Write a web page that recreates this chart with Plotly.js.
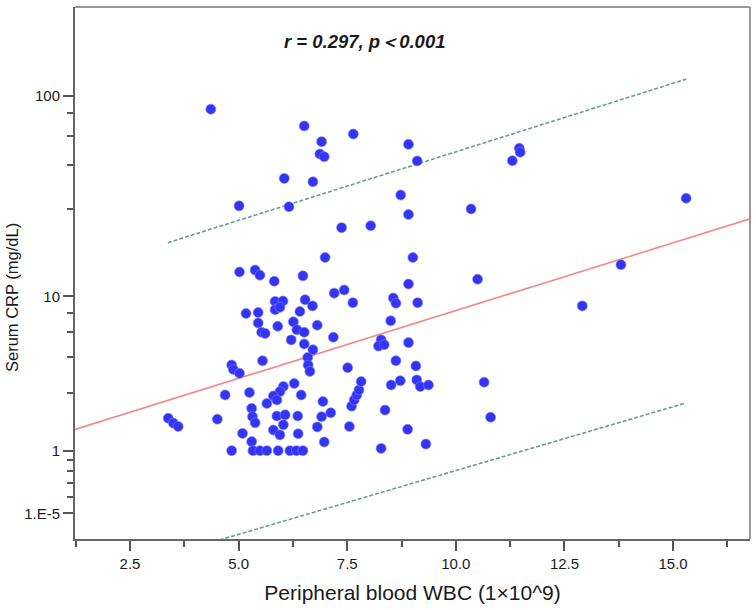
<!DOCTYPE html>
<html>
<head>
<meta charset="utf-8">
<script src="https://cdn.plot.ly/plotly-3.0.1.min.js"></script>
<style>html,body{margin:0;padding:0;background:#fff;}#chart{width:756px;height:610px;}</style>
</head>
<body>
<div id="chart"></div>
<script>
// Peripheral blood WBC (1x10^9)
const wbc = [4.36,5.01,5.02,5.38,5.49,5.82,6.48,6.51,7.64,6.91,8.91,6.87,6.97,9.11,6.05,6.71,8.73,6.16,8.91,7.37,
  8.04,6.99,9.01,8.91,7.20,7.43,7.63,8.56,8.62,9.12,5.84,6.02,5.84,5.95,5.45,5.17,6.53,6.70,6.41,6.26,
  5.45,5.53,5.61,5.90,6.34,6.51,6.81,6.21,6.51,6.71,7.18,8.50,8.91,8.28,8.22,8.35,5.55,6.59,6.60,6.64,
  7.51,8.62,9.08,4.84,4.88,5.02,6.28,6.44,4.69,5.25,6.03,5.95,5.80,5.65,5.88,5.30,5.32,5.38,6.94,7.12,
  6.91,6.81,6.97,7.55,7.60,7.66,7.72,7.77,7.82,8.37,8.51,8.72,9.10,9.18,9.37,8.89,8.28,9.31,5.88,6.07,
  6.36,6.03,5.80,5.95,6.37,3.38,3.50,3.61,4.51,5.09,5.30,4.84,5.33,5.49,5.65,5.91,6.18,6.33,6.48,
  11.46,11.48,11.30,10.35,15.30,10.50,13.80,12.91,10.65,10.80];
// Serum CRP (mg/dL)
const crp = [86,28.9,13.4,13.7,12.9,12.0,12.8,71.3,65.1,59.8,58.0,52,50.5,48.1,39.5,38.0,32.7,28.6,26.2,22.5,
  23.0,15.9,15.9,11.6,10.4,10.8,9.26,9.8,9.2,9.26,9.4,9.45,8.5,8.75,8.2,8.1,9.6,8.9,8.3,7.3,
  7.2,6.4,6.3,6.9,6.6,6.4,7.0,5.8,5.5,5.1,6.0,7.4,5.6,5.8,5.35,5.45,4.4,4.6,4.15,3.8,
  4.0,4.4,4.1,4.15,3.9,3.7,3.2,2.7,2.7,2.8,3.06,2.84,2.66,2.37,2.5,2.19,1.91,1.72,2.44,2.04,
  1.91,1.60,1.20,1.61,2.27,2.50,2.70,2.91,3.29,2.13,3.13,3.33,3.37,3.06,3.13,1.53,1.05,1.15,1.93,1.97,
  1.93,1.66,1.51,1.38,1.41,1.86,1.71,1.61,1.83,1.42,1.21,1,1,1,1,1,1,1,1,
  55.5,53.1,48.2,27.9,31.5,12.3,14.6,8.9,3.26,1.89];

// Fit line and prediction bounds (CRP values at the ends)
const fitX = [1.234, 16.77];
const fitCRP = [1.53, 24.9];
const upperX = [3.37, 15.30];
const upperCRP = [18.9, 120.3];
const lowerX = [3.37, 15.30];
const lowerCRP = [-0.37, 2.39];

// Axis ticks (axis is log scale of CRP + 1)
const yTickCRP = [100, 10, 1, 0.00001];
const yTickText = ['100', '10', '1', '1.E-5'];
const yMinorCRP = [0.2,0.4,0.6,0.8, 2.8,4.6,6.4,8.2, 28,46,64,82];
const xTicks = [2.5, 5.0, 7.5, 10.0, 12.5, 15.0];
const xMinor = [1.25, 3.75, 6.25, 8.75, 11.25, 13.75, 16.25];

const plus1 = a => a.map(v => v + 1);
const FONT = 'Liberation Sans, Arial, sans-serif';

const traces = [
  {x: fitX, y: plus1(fitCRP), mode: 'lines', line: {color: '#f28a8a', width: 1.6}, hoverinfo: 'skip'},
  {x: upperX, y: plus1(upperCRP), mode: 'lines', line: {color: '#62a385', width: 1.6, dash: '4px,2px'}, hoverinfo: 'skip'},
  {x: lowerX, y: plus1(lowerCRP), mode: 'lines', line: {color: '#62a385', width: 1.6, dash: '4px,2px'}, hoverinfo: 'skip'},
  {x: wbc, y: plus1(crp), mode: 'markers', marker: {size: 10, color: '#3434f4', line: {width: 1, color: 'rgba(130,130,255,0.6)'}}}
];

const layout = {
  width: 756, height: 610,
  margin: {l: 75, r: 6, t: 7, b: 71},
  paper_bgcolor: '#fff', plot_bgcolor: '#fff',
  showlegend: false,
  font: {family: FONT, color: '#222'},
  xaxis: {
    range: [1.234, 16.77], showgrid: false, zeroline: false,
    showline: true, linecolor: '#666', linewidth: 2,
    tickmode: 'array', tickvals: xTicks, tickformat: '.1f',
    ticks: 'outside', ticklen: 10, tickwidth: 2, tickcolor: '#555',
    tickfont: {size: 15, color: '#1a1a1a'},
    minor: {tickmode: 'array', tickvals: xMinor, ticks: 'outside', ticklen: 6, tickwidth: 2, tickcolor: '#555', showgrid: false},
    title: {text: 'Peripheral blood WBC (1×10^9)', font: {size: 21, color: '#1a1a1a'}, standoff: 14},
    automargin: false
  },
  yaxis: {
    type: 'log', range: [-0.123, 2.430], showgrid: false, zeroline: false,
    showline: true, linecolor: '#666', linewidth: 2,
    tickmode: 'array', tickvals: plus1(yTickCRP), ticktext: yTickText,
    ticks: 'outside', ticklen: 10, tickwidth: 2, tickcolor: '#555',
    tickfont: {size: 15, color: '#1a1a1a'},
    minor: {tickmode: 'array', tickvals: plus1(yMinorCRP), ticks: 'outside', ticklen: 6, tickwidth: 2, tickcolor: '#555', showgrid: false},
    automargin: false
  },
  shapes: [
    {type: 'line', xref: 'paper', yref: 'paper', x0: 0, x1: 1, y0: 1, y1: 1, line: {color: '#999', width: 2}},
    {type: 'line', xref: 'paper', yref: 'paper', x0: 1, x1: 1, y0: 0, y1: 1, line: {color: '#999', width: 2}}
  ],
  annotations: [
    {xref: 'paper', yref: 'paper', x: 0.429, y: 0.935, xanchor: 'center', yanchor: 'middle', showarrow: false,
     text: '<b><i>r = 0.297, p＜0.001</i></b>', font: {size: 18.5, color: '#1a1a1a', family: FONT}},
    {xref: 'paper', yref: 'paper', x: -0.0933, y: 0.453, xanchor: 'center', yanchor: 'middle', showarrow: false,
     textangle: -90, text: 'Serum CRP (mg/dL)', font: {size: 16.5, color: '#1a1a1a', family: FONT}}
  ]
};

Plotly.newPlot('chart', traces, layout, {displayModeBar: false, staticPlot: true});
</script>
</body>
</html>
